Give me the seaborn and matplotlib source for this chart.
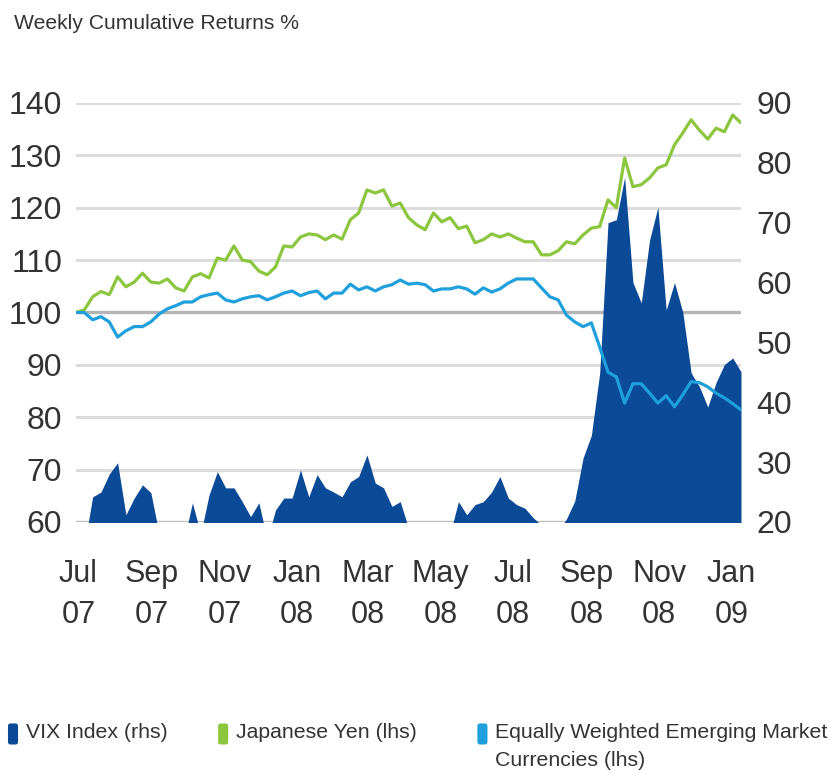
import pandas as pd
import numpy as np
import matplotlib
matplotlib.use("Agg")
import matplotlib.pyplot as plt
import matplotlib.dates as mdates
from matplotlib.patches import FancyBboxPatch
import seaborn as sns

# weekly observations, Fridays
dates = pd.date_range("2007-06-29", periods=81, freq="7D")

yen = [100.0, 100.5, 103.0, 104.0, 103.4, 106.8, 104.9, 105.8, 107.5, 105.8,
       105.6, 106.4, 104.7, 104.1, 106.8, 107.4, 106.6, 110.4, 110.0, 112.7,
       110.0, 109.7, 107.9, 107.2, 108.7, 112.7, 112.5, 114.4, 115.0, 114.8,
       113.9, 114.8, 114.0, 117.7, 119.0, 123.4, 122.8, 123.4, 120.3, 120.9,
       118.1, 116.7, 115.8, 119.0, 117.3, 118.1, 116.0, 116.5, 113.3, 113.9,
       115.0, 114.4, 115.0, 114.2, 113.5, 113.5, 111.0, 111.0, 111.8, 113.5,
       113.1, 114.8, 116.1, 116.4, 121.5, 120.0, 129.5, 124.0, 124.4, 125.7,
       127.6, 128.2, 132.0, 134.3, 136.8, 134.8, 133.1, 135.2, 134.5, 137.7,
       136.2]

em_fx = [100.0, 100.0, 98.6, 99.2, 98.2, 95.3, 96.5, 97.3, 97.3, 98.2,
         99.7, 100.7, 101.3, 102.0, 102.0, 103.0, 103.4, 103.7, 102.4, 102.0,
         102.6, 103.0, 103.2, 102.4, 103.0, 103.7, 104.1, 103.2, 103.8, 104.1,
         102.6, 103.7, 103.7, 105.4, 104.3, 104.9, 104.1, 104.9, 105.3, 106.2,
         105.4, 105.6, 105.3, 104.1, 104.5, 104.5, 104.9, 104.5, 103.5, 104.7,
         103.9, 104.5, 105.6, 106.4, 106.4, 106.4, 104.7, 103.0, 102.4, 99.5,
         98.2, 97.3, 98.0, 93.4, 88.6, 87.7, 82.7, 86.4, 86.4, 84.6,
         82.7, 84.1, 82.0, 84.3, 86.8, 86.6, 85.8, 84.6, 83.7, 82.6,
         81.4]

vix = [17.0, 16.0, 24.2, 25.0, 28.0, 29.9, 21.2, 24.0, 26.2, 24.9,
       18.0, 16.0, 15.0, 17.0, 23.2, 18.0, 24.5, 28.4, 25.7, 25.7,
       23.4, 20.9, 23.2, 17.0, 22.0, 24.0, 24.0, 28.7, 24.2, 27.9,
       25.7, 25.0, 24.2, 26.7, 27.6, 31.2, 26.5, 25.7, 22.6, 23.4,
       19.0, 17.0, 16.0, 16.0, 17.0, 18.0, 23.4, 21.2, 22.9, 23.4,
       25.0, 27.6, 24.0, 22.9, 22.3, 20.7, 19.5, 18.0, 18.5, 20.5,
       23.5, 30.7, 34.5, 44.9, 70.0, 70.5, 77.6, 60.0, 56.6, 67.1,
       72.6, 55.4, 60.0, 55.0, 44.9, 42.6, 39.2, 43.3, 46.3, 47.4,
       45.1]

left_ticks = list(range(60, 141, 10))
right_ticks = list(range(20, 91, 10))

VIX_COLOR = "#0b4a97"
YEN_COLOR = "#8cc63f"
EM_COLOR = "#1fa0dc"
TEXT_COLOR = "#333333"

sns.set_style("white")
plt.rcParams["font.family"] = ["Liberation Sans", "DejaVu Sans"]

df = pd.DataFrame({"date": dates, "yen": yen, "em": em_fx, "vix": vix})

fig = plt.figure(figsize=(8.39, 7.80), dpi=100)
ax = fig.add_axes([0.0906, 0.3308, 0.7926, 0.5372])
ax_vix = ax.twinx()
ax_ln = ax.twinx()

# layering: grid at bottom, VIX area in middle, lines on top
ax.set_zorder(0)
ax_vix.set_zorder(1)
ax_ln.set_zorder(2)

# left axis with grid
ax.set_ylim(60, 140)
ax.set_yticks(left_ticks)
ax.grid(axis="y", color="#dcdcdc", lw=2.2)
ax.grid(axis="x", visible=False)
ax.axhline(100, color="#b5b5b5", lw=2.4, zorder=1)
ax.axhline(60, color="#bdbdbd", lw=2.4, zorder=1)
ax.tick_params(axis="y", length=0, pad=10, labelsize=23, labelcolor=TEXT_COLOR)

# VIX area on right axis
ax_vix.fill_between(df["date"], 0, df["vix"], color=VIX_COLOR, lw=0)
ax_vix.set_ylim(20, 90)
ax_vix.set_yticks(right_ticks)
ax_vix.tick_params(axis="y", length=0, pad=11, labelsize=23, labelcolor=TEXT_COLOR)

# currency lines on left scale
sns.lineplot(data=df, x="date", y="yen", ax=ax_ln, color=YEN_COLOR, lw=2.3)
sns.lineplot(data=df, x="date", y="em", ax=ax_ln, color=EM_COLOR, lw=2.3)
ax_ln.set_ylim(60, 140)
ax_ln.set_yticks([])
ax_ln.set_ylabel("")

ax.set_xlim(dates[0], dates[-1])
ax.xaxis.set_major_locator(mdates.MonthLocator(bymonth=[1, 3, 5, 7, 9, 11]))
ax.xaxis.set_major_formatter(mdates.DateFormatter("%b\n%y"))
ax.tick_params(axis="x", length=0, pad=27, labelsize=22, labelcolor=TEXT_COLOR)
for lbl in ax.get_xticklabels():
    lbl.set_linespacing(1.45)

for a in (ax, ax_vix, ax_ln):
    for s in a.spines.values():
        s.set_visible(False)
    a.set_xlabel("")
ax.set_ylabel("")
ax_vix.set_ylabel("")

fig.text(0.017, 0.970, "Weekly Cumulative Returns %", fontsize=15.2,
         color=TEXT_COLOR, va="center", ha="left")

# legend along the bottom
legend_items = [
    (0.0095, "VIX Index (rhs)", VIX_COLOR),
    (0.2600, "Japanese Yen (lhs)", YEN_COLOR),
    (0.5690, "Equally Weighted Emerging Market\nCurrencies (lhs)", EM_COLOR),
]
for x0, label, color in legend_items:
    fig.patches.append(FancyBboxPatch((x0, 0.0455), 0.012, 0.027,
                                      boxstyle="round,pad=0,rounding_size=0.003",
                                      transform=fig.transFigure, color=color,
                                      lw=0))
    fig.text(x0 + 0.0215, 0.0735, label, fontsize=15.3,
             color=TEXT_COLOR, va="top", ha="left", linespacing=1.6)

fig.savefig("out.png", dpi=100)
